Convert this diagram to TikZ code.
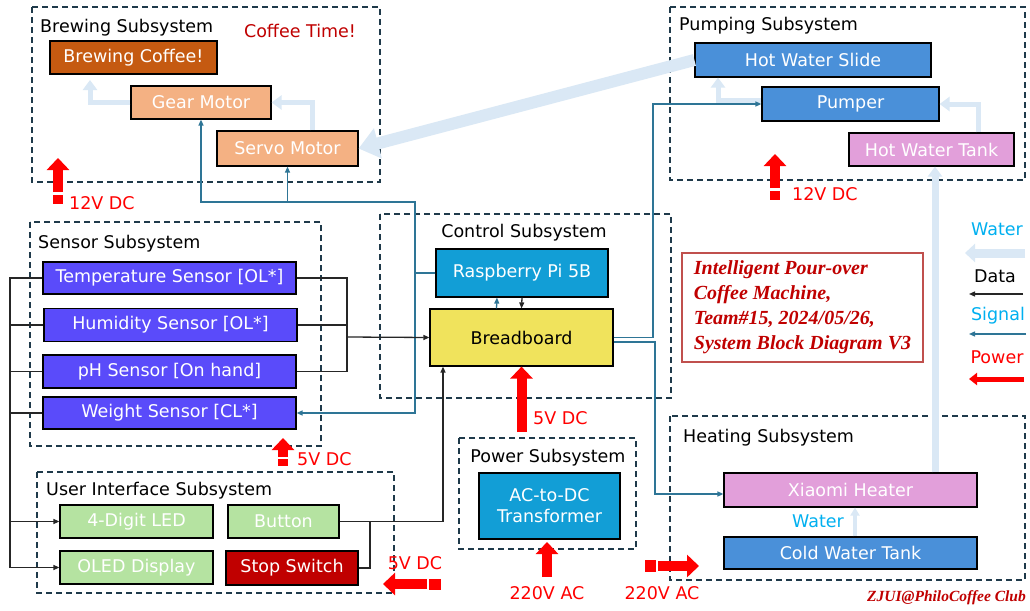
\documentclass[tikz,border=0pt]{standalone}
\usepackage{fontspec}
\setmainfont{DejaVu Sans}
\newfontfamily\serifbi{Liberation Serif}
\usetikzlibrary{arrows.meta}

\definecolor{frame}{HTML}{1F3A4A}
\definecolor{sigblue}{HTML}{2E7596}
\definecolor{waterblue}{HTML}{DAE8F5}
\definecolor{brewbrown}{HTML}{C55A11}
\definecolor{salmon}{HTML}{F4B183}
\definecolor{slideblue}{HTML}{4A90D9}
\definecolor{tankpink}{HTML}{E29FDA}
\definecolor{sensorblue}{HTML}{5A4BFA}
\definecolor{piblue}{HTML}{129ED6}
\definecolor{breadyellow}{HTML}{F0E35C}
\definecolor{uigreen}{HTML}{B5E3A1}
\definecolor{darkred}{HTML}{C00000}
\definecolor{legcyan}{HTML}{00B0F0}
\definecolor{titleframe}{HTML}{C0504D}

\begin{document}
\begin{tikzpicture}[x=1pt, y=-1pt, font=\fontsize{17.5}{21}\selectfont,
	>={Triangle[length=6pt,width=5pt]},
	blk/.style={draw=black, line width=1.2pt, text=white, inner sep=0pt, minimum height=33pt},
	frm/.style={draw=frame, line width=1.5pt, dash pattern=on 6pt off 4pt},
	sig/.style={draw=sigblue, line width=1.3pt},
	dat/.style={draw=black!85, line width=1.3pt},
	water/.style={draw=waterblue, line width=5pt, -{Triangle[length=10pt,width=14pt]}},
	pwr/.style={draw=red, line width=10pt, -{Triangle[length=12pt,width=22pt]}},
	lbl/.style={inner sep=0pt}]

	\path[fill=white, use as bounding box] (0,0) rectangle (1030,610);

	% subsystem frames
	\draw[frm] (32,7) rectangle (380,182);
	\draw[frm] (670,7) rectangle (1025,180);
	\draw[frm] (30,222) rectangle (321,446);
	\draw[frm] (380,214) rectangle (671,398);
	\draw[frm] (37,472) rectangle (394,593);
	\draw[frm] (459,438) rectangle (636,549);
	\draw[frm] (670,416) rectangle (1025,580);

	\node[lbl, anchor=west] at (40,28) (tbrew) {Brewing Subsystem};
	\node[lbl, text=darkred] at (300,31) (tcoffee) {Coffee Time!};
	\node[lbl, anchor=west] at (679,26) (tpump) {Pumping Subsystem};
	\node[lbl, anchor=west] at (38,244) (tsens) {Sensor Subsystem};
	\node[lbl] at (524,233) (tctrl) {Control Subsystem};
	\node[lbl, anchor=west] at (46,491) (tui) {User Interface Subsystem};
	\node[lbl] at (548,458) (tpwr) {Power Subsystem};
	\node[lbl, anchor=west] at (683,438) (theat) {Heating Subsystem};

	% blocks
	\node[blk, fill=brewbrown, minimum width=167pt] at (133.5,57.5) (brew) {Brewing Coffee!};
	\node[blk, fill=salmon, minimum width=140pt] at (201,102.5) (gear) {Gear Motor};
	\node[blk, fill=salmon, minimum width=141pt, minimum height=35pt] at (287.5,148.5) (servo) {Servo Motor};

	\node[blk, fill=slideblue, minimum width=236pt, minimum height=34pt] at (813,60) (slide) {Hot Water Slide};
	\node[blk, fill=slideblue, minimum width=177pt, minimum height=34pt] at (850.5,104) (pumper) {Pumper};
	\node[blk, fill=tankpink, minimum width=165pt] at (931.5,149.5) (hwtank) {Hot Water Tank};

	\node[blk, fill=sensorblue, minimum width=253pt, minimum height=32pt] at (169.5,278) (temp) {Temperature Sensor [OL*]};
	\node[blk, fill=sensorblue, minimum width=253pt] at (170.5,325) (humid) {Humidity Sensor [OL*]};
	\node[blk, fill=sensorblue, minimum width=253pt] at (169.5,371.5) (ph) {pH Sensor [On hand]};
	\node[blk, fill=sensorblue, minimum width=253pt, minimum height=32pt] at (169.5,413) (weight) {Weight Sensor [CL*]};

	\node[blk, fill=piblue, minimum width=172pt, minimum height=48pt] at (522,273) (pi) {Raspberry Pi 5B};
	\node[blk, fill=breadyellow, text=black, minimum width=183pt, minimum height=57pt] at (521.5,337.5) (bread) {Breadboard};

	\node[blk, fill=uigreen, minimum width=153pt] at (136.5,521.5) (led) {4-Digit LED};
	\node[blk, fill=uigreen, minimum width=111pt] at (283.5,521.5) (button) {Button};
	\node[blk, fill=uigreen, minimum width=153pt] at (136.5,567.5) (oled) {OLED Display};
	\node[blk, fill=darkred, minimum width=132pt, minimum height=34pt] at (292,568) (stop) {Stop Switch};

	\node[blk, fill=piblue, minimum width=141pt, minimum height=66pt, align=center] at (549.5,506) (trans) {AC-to-DC\\Transformer};

	\node[blk, fill=tankpink, minimum width=253pt, minimum height=34pt] at (850.5,490) (heater) {Xiaomi Heater};
	\node[blk, fill=slideblue, minimum width=253pt, minimum height=32pt] at (850.5,553) (cold) {Cold Water Tank};
	\node[lbl, text=legcyan] at (818,521) (wlabel) {Water};

	% water
	\coordinate (brewin) at (90,80);
	\draw[water] (gear.west) -| (brewin);
	\draw[water] ([xshift=24.5pt]servo.north) |- (gear.east);
	\draw[water, line width=12pt, -{Triangle[length=20pt,width=30pt]}] (slide.west) -- (servo.east);
	\draw[water] ([yshift=4pt]pumper.west) -| ([xshift=-95pt]slide.south);
	\draw[water] ([xshift=46.5pt]hwtank.north) |- (pumper.east);
	\draw[water, line width=7pt] ([xshift=84.5pt]heater.north) -- ([xshift=3.5pt]hwtank.south);
	\draw[water, line width=4pt, -{Triangle[length=8pt,width=9pt]}] ([xshift=4.5pt]cold.north) -- ([xshift=4.5pt]heater.south);

	% signal
	\coordinate (sigx) at (415,202);
	\draw[sig,->] (pi.west) -| (sigx) -| (gear.south);
	\draw[sig,->] (sigx -| servo.south) -- (servo.south);
	\draw[sig,->] (pi.west) -| (sigx |- weight.east) -- (weight.east);
	\draw[sig,->] ([xshift=-25pt]bread.north) -- ([xshift=-25pt]pi.south);
	\coordinate (pumpx) at (653,104);
	\draw[sig,->] (bread.east) -| (pumpx) -- (pumper.west);
	\coordinate (heatx) at (655,494);
	\draw[sig,->] ([yshift=-4.5pt]bread.east) -| (heatx) -- ([yshift=-4pt]heater.west);

	% data
	\draw[dat,->] (pi.south) -- (bread.north);
	\coordinate (busr) at (347,337);
	\draw[dat] (temp.east) -| (busr);
	\draw[dat] (humid.east) -| (busr);
	\draw[dat] (ph.east) -| (busr);
	\draw[dat,->] (busr) -- (bread.west);
	\coordinate (busl) at (10,278);
	\draw[dat,->] (temp.west) -| (busl |- oled.west) -- (oled.west);
	\draw[dat] (humid.west) -- (humid.west -| busl);
	\draw[dat] (ph.west) -- (ph.west -| busl);
	\draw[dat] (weight.west) -- (weight.west -| busl);
	\draw[dat,->] (led.west -| busl) -- (led.west);
	\coordinate (uix) at (443,521.5);
	\coordinate (uij) at (370,521.5);
	\draw[dat,->] (button.east) -- (uix) -- (uix |- bread.south);
	\draw[dat] (stop.east) -| (uij);

	% power
	\coordinate (p12a) at (58,192);
	\coordinate (p12b) at (58,158);
	\draw[pwr] (p12a) -- (p12b);
	\fill[red] (53,195) rectangle (63,204);
	\node[lbl, anchor=west, text=red] at (69,203) (l12a) {12V DC};

	\coordinate (p12c) at (775,188);
	\coordinate (p12d) at (775,154);
	\draw[pwr] (p12c) -- (p12d);
	\fill[red] (770,191) rectangle (780,200);
	\node[lbl, anchor=west, text=red] at (792,194) (l12b) {12V DC};

	\coordinate (p5a) at (283,457);
	\coordinate (p5b) at (283,438);
	\draw[pwr] (p5a) -- (p5b);
	\fill[red] (278,459) rectangle (288,466);
	\node[lbl, anchor=west, text=red] at (297,459) (l5a) {5V DC};

	\coordinate (p5c) at (521.5,432);
	\draw[pwr] (p5c) -- (bread.south);
	\node[lbl, anchor=west, text=red] at (533,418) (l5b) {5V DC};

	\coordinate (p5d) at (427,584);
	\coordinate (p5e) at (383,584);
	\draw[pwr] (p5d) -- (p5e);
	\fill[red] (429,578.5) rectangle (441,589.5);
	\node[lbl, text=red] at (415,563) (l5c) {5V DC};

	\coordinate (p220a) at (547,577);
	\coordinate (p220b) at (547,542);
	\draw[pwr] (p220a) -- (p220b);
	\node[lbl, text=red] at (547,593) (l220a) {220V AC};

	\coordinate (p220c) at (658,566);
	\coordinate (p220d) at (699,566);
	\draw[pwr] (p220c) -- (p220d);
	\fill[red] (645,560) rectangle (656,572);
	\node[lbl, text=red] at (662,593) (l220b) {220V AC};

	% legend
	\node[lbl, text=legcyan] at (997,229) (kwater) {Water};
	\coordinate (kw1) at (1025,253);
	\coordinate (kw2) at (965,253);
	\draw[water, line width=9pt, -{Triangle[length=10pt,width=18pt]}] (kw1) -- (kw2);
	\node[lbl] at (995,276) (kdata) {Data};
	\coordinate (kd1) at (1023,294);
	\coordinate (kd2) at (969,294);
	\draw[dat,->] (kd1) -- (kd2);
	\node[lbl, text=legcyan] at (998,316) (ksig) {Signal};
	\coordinate (ks1) at (1026,334);
	\coordinate (ks2) at (969,334);
	\draw[sig,->] (ks1) -- (ks2);
	\node[lbl, text=red] at (997,357) (kpwr) {Power};
	\coordinate (kp1) at (1024,379);
	\coordinate (kp2) at (969,379);
	\draw[pwr, line width=5pt, -{Triangle[length=8pt,width=12pt]}] (kp1) -- (kp2);

	\node[draw=titleframe, line width=1.5pt, text=darkred, align=left, minimum width=241pt, minimum height=109pt,
		font=\serifbi\bfseries\itshape\fontsize{20}{25}\selectfont] at (802.5,307.5) (ttl)
		{Intelligent Pour-over\\Coffee Machine,\\Team\#15, 2024/05/26,\\System Block Diagram V3};
	\node[lbl, anchor=east, text=darkred, font=\serifbi\bfseries\itshape\fontsize{15.5}{18}\selectfont] at (1026,598) (club) {ZJUI@PhiloCoffee Club};

\end{tikzpicture}
\end{document}
